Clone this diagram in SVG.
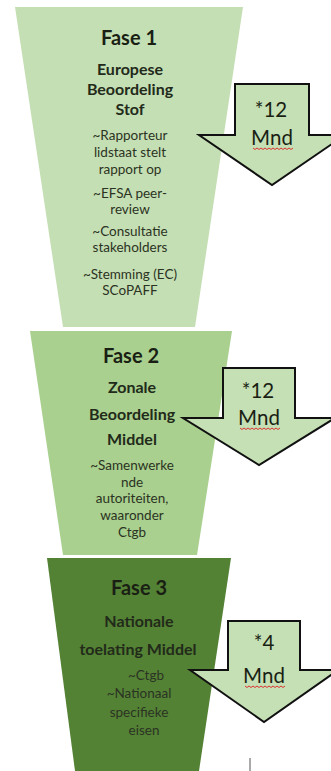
<svg xmlns="http://www.w3.org/2000/svg" width="331" height="771" viewBox="0 0 331 771">
<style>
.t{font-family:Lato,"Open Sans","Liberation Sans",sans-serif;text-anchor:middle;}
.h{font-size:20px;font-weight:bold;fill:#1a1f14;}
.s{font-size:16px;font-weight:bold;fill:#222a1a;}
.b{font-size:13.5px;fill:#2b3323;}
.a{fill:#c5e0b4;stroke:#111;stroke-width:2;stroke-linejoin:miter;}
.m{font-size:20.5px;fill:#1a1f14;}
.sq{fill:none;stroke:#d33;stroke-width:1;}
</style>
<rect width="331" height="771" fill="#fff"/>
<g id="fase1">
<polygon points="15,7 243,7 195,327 63,327" fill="#c5dfb4"/>
<text class="t h" x="129" y="45">Fase 1</text>
<text class="t s" x="130" y="75">Europese</text>
<text class="t s" x="130" y="95" font-size="15.5">Beoordeling</text>
<text class="t s" x="130" y="115">Stof</text>
<text class="t b" x="130" y="140">~Rapporteur</text>
<text class="t b" x="130" y="157">lidstaat stelt</text>
<text class="t b" x="130" y="174">rapport op</text>
<text class="t b" x="130" y="198">~EFSA peer-</text>
<text class="t b" x="130" y="214">review</text>
<text class="t b" x="130" y="236">~Consultatie</text>
<text class="t b" x="130" y="252">stakeholders</text>
<text class="t b" x="130" y="279">~Stemming (EC)</text>
<text class="t b" x="130" y="295">SCoPAFF</text>
</g>
<g id="fase2">
<polygon points="30,331 232,331 197,555 63,555" fill="#a9d08e"/>
<text class="t h" x="131" y="363">Fase 2</text>
<text class="t s" x="132" y="393">Zonale</text>
<text class="t s" x="132" y="420">Beoordeling</text>
<text class="t s" x="132" y="445">Middel</text>
<text class="t b" x="132" y="470">~Samenwerke</text>
<text class="t b" x="132" y="487">nde</text>
<text class="t b" x="132" y="503">autoriteiten,</text>
<text class="t b" x="132" y="520">waaronder</text>
<text class="t b" x="132" y="537">Ctgb</text>
</g>
<g id="fase3">
<polygon points="47,558 231,558 199,771 75,771" fill="#548235"/>
<text class="t h" x="139" y="595">Fase 3</text>
<text class="t s" x="139" y="627">Nationale</text>
<text class="t s" x="138" y="655">toelating Middel</text>
<text class="t b" x="146" y="680">~Ctgb</text>
<text class="t b" x="139" y="698">~Nationaal</text>
<text class="t b" x="139" y="717">specifieke</text>
<text class="t b" x="144" y="735">eisen</text>
</g>
<g id="arrow1">
<polygon class="a" points="235,84 309,84 309,135 345,135 272,185 199,135 235,135"/>
<text class="t m" x="271" y="117">*12</text>
<text class="t m" x="272" y="145">Mnd</text>
<path class="sq" d="M253,148 l2,1.5 l2,-1.5 l2,1.5 l2,-1.5 l2,1.5 l2,-1.5 l2,1.5 l2,-1.5 l2,1.5 l2,-1.5 l2,1.5 l2,-1.5 l2,1.5 l2,-1.5 l2,1.5 l2,-1.5 l2,1.5 l2,-1.5 l2,1.5 l2,-1.5"/>
</g>
<g id="arrow2">
<polygon class="a" points="223,368 295,368 295,418 335,418 259,465 183,418 223,418"/>
<text class="t m" x="258" y="398">*12</text>
<text class="t m" x="259" y="425">Mnd</text>
<path class="sq" d="M240,428 l2,1.5 l2,-1.5 l2,1.5 l2,-1.5 l2,1.5 l2,-1.5 l2,1.5 l2,-1.5 l2,1.5 l2,-1.5 l2,1.5 l2,-1.5 l2,1.5 l2,-1.5 l2,1.5 l2,-1.5 l2,1.5 l2,-1.5 l2,1.5 l2,-1.5"/>
</g>
<g id="arrow3">
<polygon class="a" points="228,621 300,621 300,670 338,670 264,722 190,670 228,670"/>
<text class="t m" x="264" y="650">*4</text>
<text class="t m" x="264" y="683">Mnd</text>
<path class="sq" d="M245,686 l2,1.5 l2,-1.5 l2,1.5 l2,-1.5 l2,1.5 l2,-1.5 l2,1.5 l2,-1.5 l2,1.5 l2,-1.5 l2,1.5 l2,-1.5 l2,1.5 l2,-1.5 l2,1.5 l2,-1.5 l2,1.5 l2,-1.5 l2,1.5 l2,-1.5"/>
</g>
<g id="connectors">
<line x1="250" y1="758" x2="250" y2="771" stroke="#555" stroke-width="1"/>
</g>
</svg>
